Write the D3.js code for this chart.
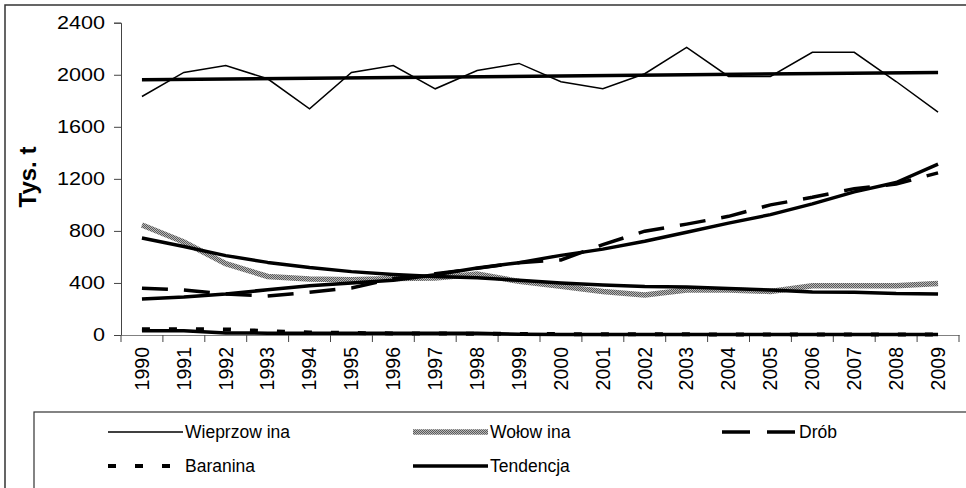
<!DOCTYPE html>
<html><head><meta charset="utf-8">
<script src="https://cdn.jsdelivr.net/npm/d3@7"></script>
<style>
html,body{margin:0;padding:0;background:#fff;}
svg{display:block;font-family:"Liberation Sans",Arial,sans-serif;}
</style></head>
<body><svg id="c" width="966" height="488"></svg>
<script>
const years = ["1990","1991","1992","1993","1994","1995","1996","1997","1998","1999","2000","2001","2002","2003","2004","2005","2006","2007","2008","2009"];
const yTicks = [0,400,800,1200,1600,2000,2400];
const wieprzowina = [1833,2018,2071,1969,1738,2018,2071,1892,2033,2087,1946,1892,2008,2210,1987,1987,2172,2172,1948,1713];
const wolowina = [845,715,548,450,430,425,435,438,468,412,375,335,308,346,346,335,378,378,378,395];
const drob = [360,345,315,300,328,362,432,470,512,556,577,695,798,852,912,1000,1058,1125,1160,1246];
const baranina = [45,45,43,30,20,15,12,11,10,8,7,6,5,5,4,4,4,3,3,3];
const trendWieprzowina = [{year:"1990",v:1961},{year:"2009",v:2018}];
const trendWolowina = [745,680,610,558,518,487,465,450,440,420,400,385,372,368,358,346,330,328,318,316];
const trendDrob = [277,292,315,348,378,400,420,463,515,556,612,660,720,790,860,925,1008,1100,1172,1313];
const trendBaranina = [33,33,16,14,13,13,13,13,13,5,4,4,3,3,3,3,3,3,3,3];
const legendLabels = ["Wieprzow ina","Wołow ina","Drób","Baranina","Tendencja"];
const yTitle = "Tys. t";

const svg = d3.select("#c");
const defs = svg.append("defs");
const pat = defs.append("pattern").attr("id","stip").attr("patternUnits","userSpaceOnUse").attr("width",2).attr("height",2);
pat.append("rect").attr("width",2).attr("height",2).attr("fill","#b8b8b8");
pat.append("rect").attr("width",1).attr("height",1).attr("fill","#5a5a5a");
pat.append("rect").attr("x",1).attr("y",1).attr("width",1).attr("height",1).attr("fill","#5a5a5a");

// outer border
svg.append("rect").attr("x",5).attr("y",5).attr("width",1000).attr("height",600)
  .attr("fill","none").attr("stroke","#333").attr("stroke-width",1.5);

const x = d3.scaleBand().domain(years).range([121,959]);
const y = d3.scaleLinear().domain([0,2400]).range([335,22.7]);
const cx = d => x(d) + x.bandwidth()/2;

// y axis
const gy = svg.append("g").attr("transform","translate(121,0)")
  .call(d3.axisLeft(y).tickValues(yTicks).tickSize(7).tickPadding(9).tickFormat(d3.format("d")));
gy.select(".domain").attr("stroke","#444");
gy.selectAll(".tick line").attr("stroke","#444");
gy.selectAll(".tick text").attr("x",0).attr("transform","translate(-16,0) scale(1.2,1)")
  .attr("font-size",18).attr("fill","#000").attr("font-family","Liberation Sans, Arial, sans-serif");

// x axis
const gx = svg.append("g").attr("transform","translate(0,335)")
  .call(d3.axisBottom(x).tickSize(0).tickPadding(0));
gx.select(".domain").attr("stroke","#808080").attr("stroke-width",1.2);
gx.selectAll(".tick text").attr("transform","translate(0,12) rotate(-90)")
  .attr("text-anchor","end").attr("x",0).attr("y",0).attr("dy","0.35em")
  .attr("font-size",19.5).attr("fill","#000").attr("font-family","Liberation Sans, Arial, sans-serif");
const bounds = years.map(d=>x(d)).concat([x.range()[1]]);
svg.append("g").selectAll("line").data(bounds).join("line")
  .attr("x1",d=>d).attr("x2",d=>d).attr("y1",335).attr("y2",342)
  .attr("stroke","#444").attr("stroke-width",1);

// y title
svg.append("text").attr("transform","translate(36,177) rotate(-90)")
  .attr("text-anchor","middle").attr("font-weight","bold").attr("font-size",24)
  .attr("font-family","Liberation Sans, Arial, sans-serif").text(yTitle);

const line = d3.line().x((d,i)=>cx(years[i])).y(d=>y(d));

const plot = svg.append("g");
plot.append("path").datum(wieprzowina).attr("d",line).attr("fill","none").attr("stroke","#000").attr("stroke-width",1.5);
plot.append("path").datum(wolowina).attr("d",line).attr("fill","none").attr("stroke","url(#stip)").attr("stroke-width",5.5);
plot.append("path").datum(drob).attr("d",line).attr("fill","none").attr("stroke","#000").attr("stroke-width",3.5).attr("stroke-dasharray","26,16");
plot.append("path").datum(baranina).attr("d",line).attr("fill","none").attr("stroke","#000").attr("stroke-width",4).attr("stroke-dasharray","8,19");

const trendStyle = p => p.attr("fill","none").attr("stroke","#000").attr("stroke-width",3.5).attr("stroke-linejoin","round");
plot.append("path").datum(trendWieprzowina).attr("d",d3.line().x(d=>cx(d.year)).y(d=>y(d.v))).call(trendStyle);
plot.append("path").datum(trendWolowina).attr("d",line).call(trendStyle);
plot.append("path").datum(trendDrob).attr("d",line).call(trendStyle);
plot.append("path").datum(trendBaranina).attr("d",line).call(trendStyle);

// legend
svg.append("rect").attr("x",34).attr("y",412).attr("width",1000).attr("height",200)
  .attr("fill","#fff").attr("stroke","#333").attr("stroke-width",1.2);
const legItems = [
  {lab:legendLabels[0], x:108, y:432, style:{w:1.5, c:"#000"}},
  {lab:legendLabels[1], x:413, y:432, style:{w:5.5, c:"url(#stip)"}},
  {lab:legendLabels[2], x:722, y:432, style:{w:3.5, c:"#000", dash:"28,17"}},
  {lab:legendLabels[3], x:108, y:466, style:{w:4, c:"#000", dash:"8,19"}},
  {lab:legendLabels[4], x:413, y:466, style:{w:3.5, c:"#000"}}
];
const lg = svg.append("g");
legItems.forEach(it=>{
  lg.append("line").attr("x1",it.x).attr("x2",it.x+75).attr("y1",it.y).attr("y2",it.y)
    .attr("stroke",it.style.c).attr("stroke-width",it.style.w).attr("stroke-dasharray",it.style.dash||null);
  lg.append("text").attr("x",it.x+77).attr("y",it.y).attr("dy","0.35em")
    .attr("font-size",17.5).attr("font-family","Liberation Sans, Arial, sans-serif").text(it.lab);
});
</script></body></html>
